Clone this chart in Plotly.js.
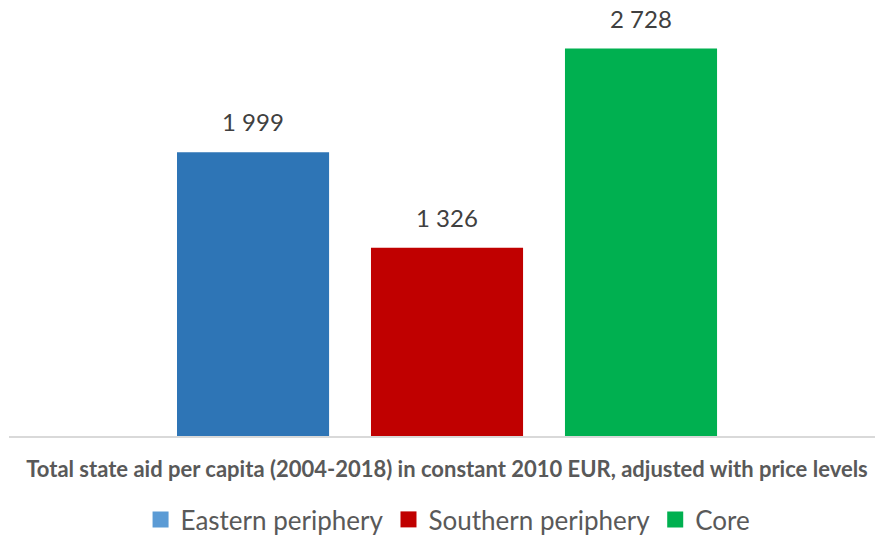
<!DOCTYPE html>
<html>
<head>
<meta charset="utf-8">
<script src="https://cdn.plot.ly/plotly-3.0.1.min.js"></script>
<style>html,body{margin:0;padding:0;background:#fff;}#chart{width:875px;height:535px;}</style>
</head>
<body>
<div id="chart"></div>
<script>
var category = ["Total state aid per capita (2004-2018) in constant 2010 EUR, adjusted with price levels"];
var seriesNames = ["Eastern periphery", "Southern periphery", "Core"];
var seriesValues = [1999, 1326, 2728];
var barColors = ["#2E75B6", "#C00000", "#00B050"];
var legendColors = ["#5B9BD5", "#C00000", "#00B050"];

function fmt(v) { return String(v).replace(/\B(?=(\d{3})+(?!\d))/g, " "); }

var traces = [];
seriesNames.forEach(function (name, i) {
  traces.push({
    type: "bar", name: name, x: category, y: [seriesValues[i]],
    marker: { color: barColors[i] }, showlegend: false, hoverinfo: "skip"
  });
});
seriesNames.forEach(function (name, i) {
  traces.push({
    type: "scatter", mode: "markers", name: name, x: [null], y: [null],
    marker: { symbol: "square", size: 16, color: legendColors[i] }, showlegend: true
  });
});

var slotPx = 194;
var annotations = seriesNames.map(function (name, i) {
  return {
    x: category[0], y: seriesValues[i], xref: "x", yref: "y",
    text: fmt(seriesValues[i]), showarrow: false,
    xshift: (i - 1) * slotPx, yanchor: "bottom", yshift: 14,
    font: { family: "Lato, sans-serif", size: 24, color: "#404040" }
  };
});

var layout = {
  width: 875, height: 535,
  margin: { l: 9, r: 0, t: 10, b: 99, autoexpand: false },
  paper_bgcolor: "#fff", plot_bgcolor: "#fff",
  barmode: "group", bargap: 0.328, bargroupgap: 0.216,
  showlegend: true,
  legend: {
    orientation: "h", x: 0.507, xanchor: "center", y: -0.196, yanchor: "middle",
    font: { family: "Lato, sans-serif", size: 26, color: "#595959" },
    bgcolor: "rgba(0,0,0,0)", itemclick: false
  },
  xaxis: {
    type: "category", range: [-0.5058, 0.4942], fixedrange: true, automargin: false,
    showline: true, linecolor: "#D9D9D9", linewidth: 1.5,
    ticks: "outside", ticklen: 13, tickcolor: "rgba(0,0,0,0)",
    tickfont: { family: "Lato, sans-serif", size: 22, color: "#595959", weight: "bold" },
    showgrid: false, zeroline: false
  },
  yaxis: {
    range: [0, 3000], visible: false, showgrid: false, zeroline: false, fixedrange: true
  },
  annotations: annotations
};

Plotly.newPlot("chart", traces, layout, { staticPlot: true, displayModeBar: false });
</script>
</body>
</html>
